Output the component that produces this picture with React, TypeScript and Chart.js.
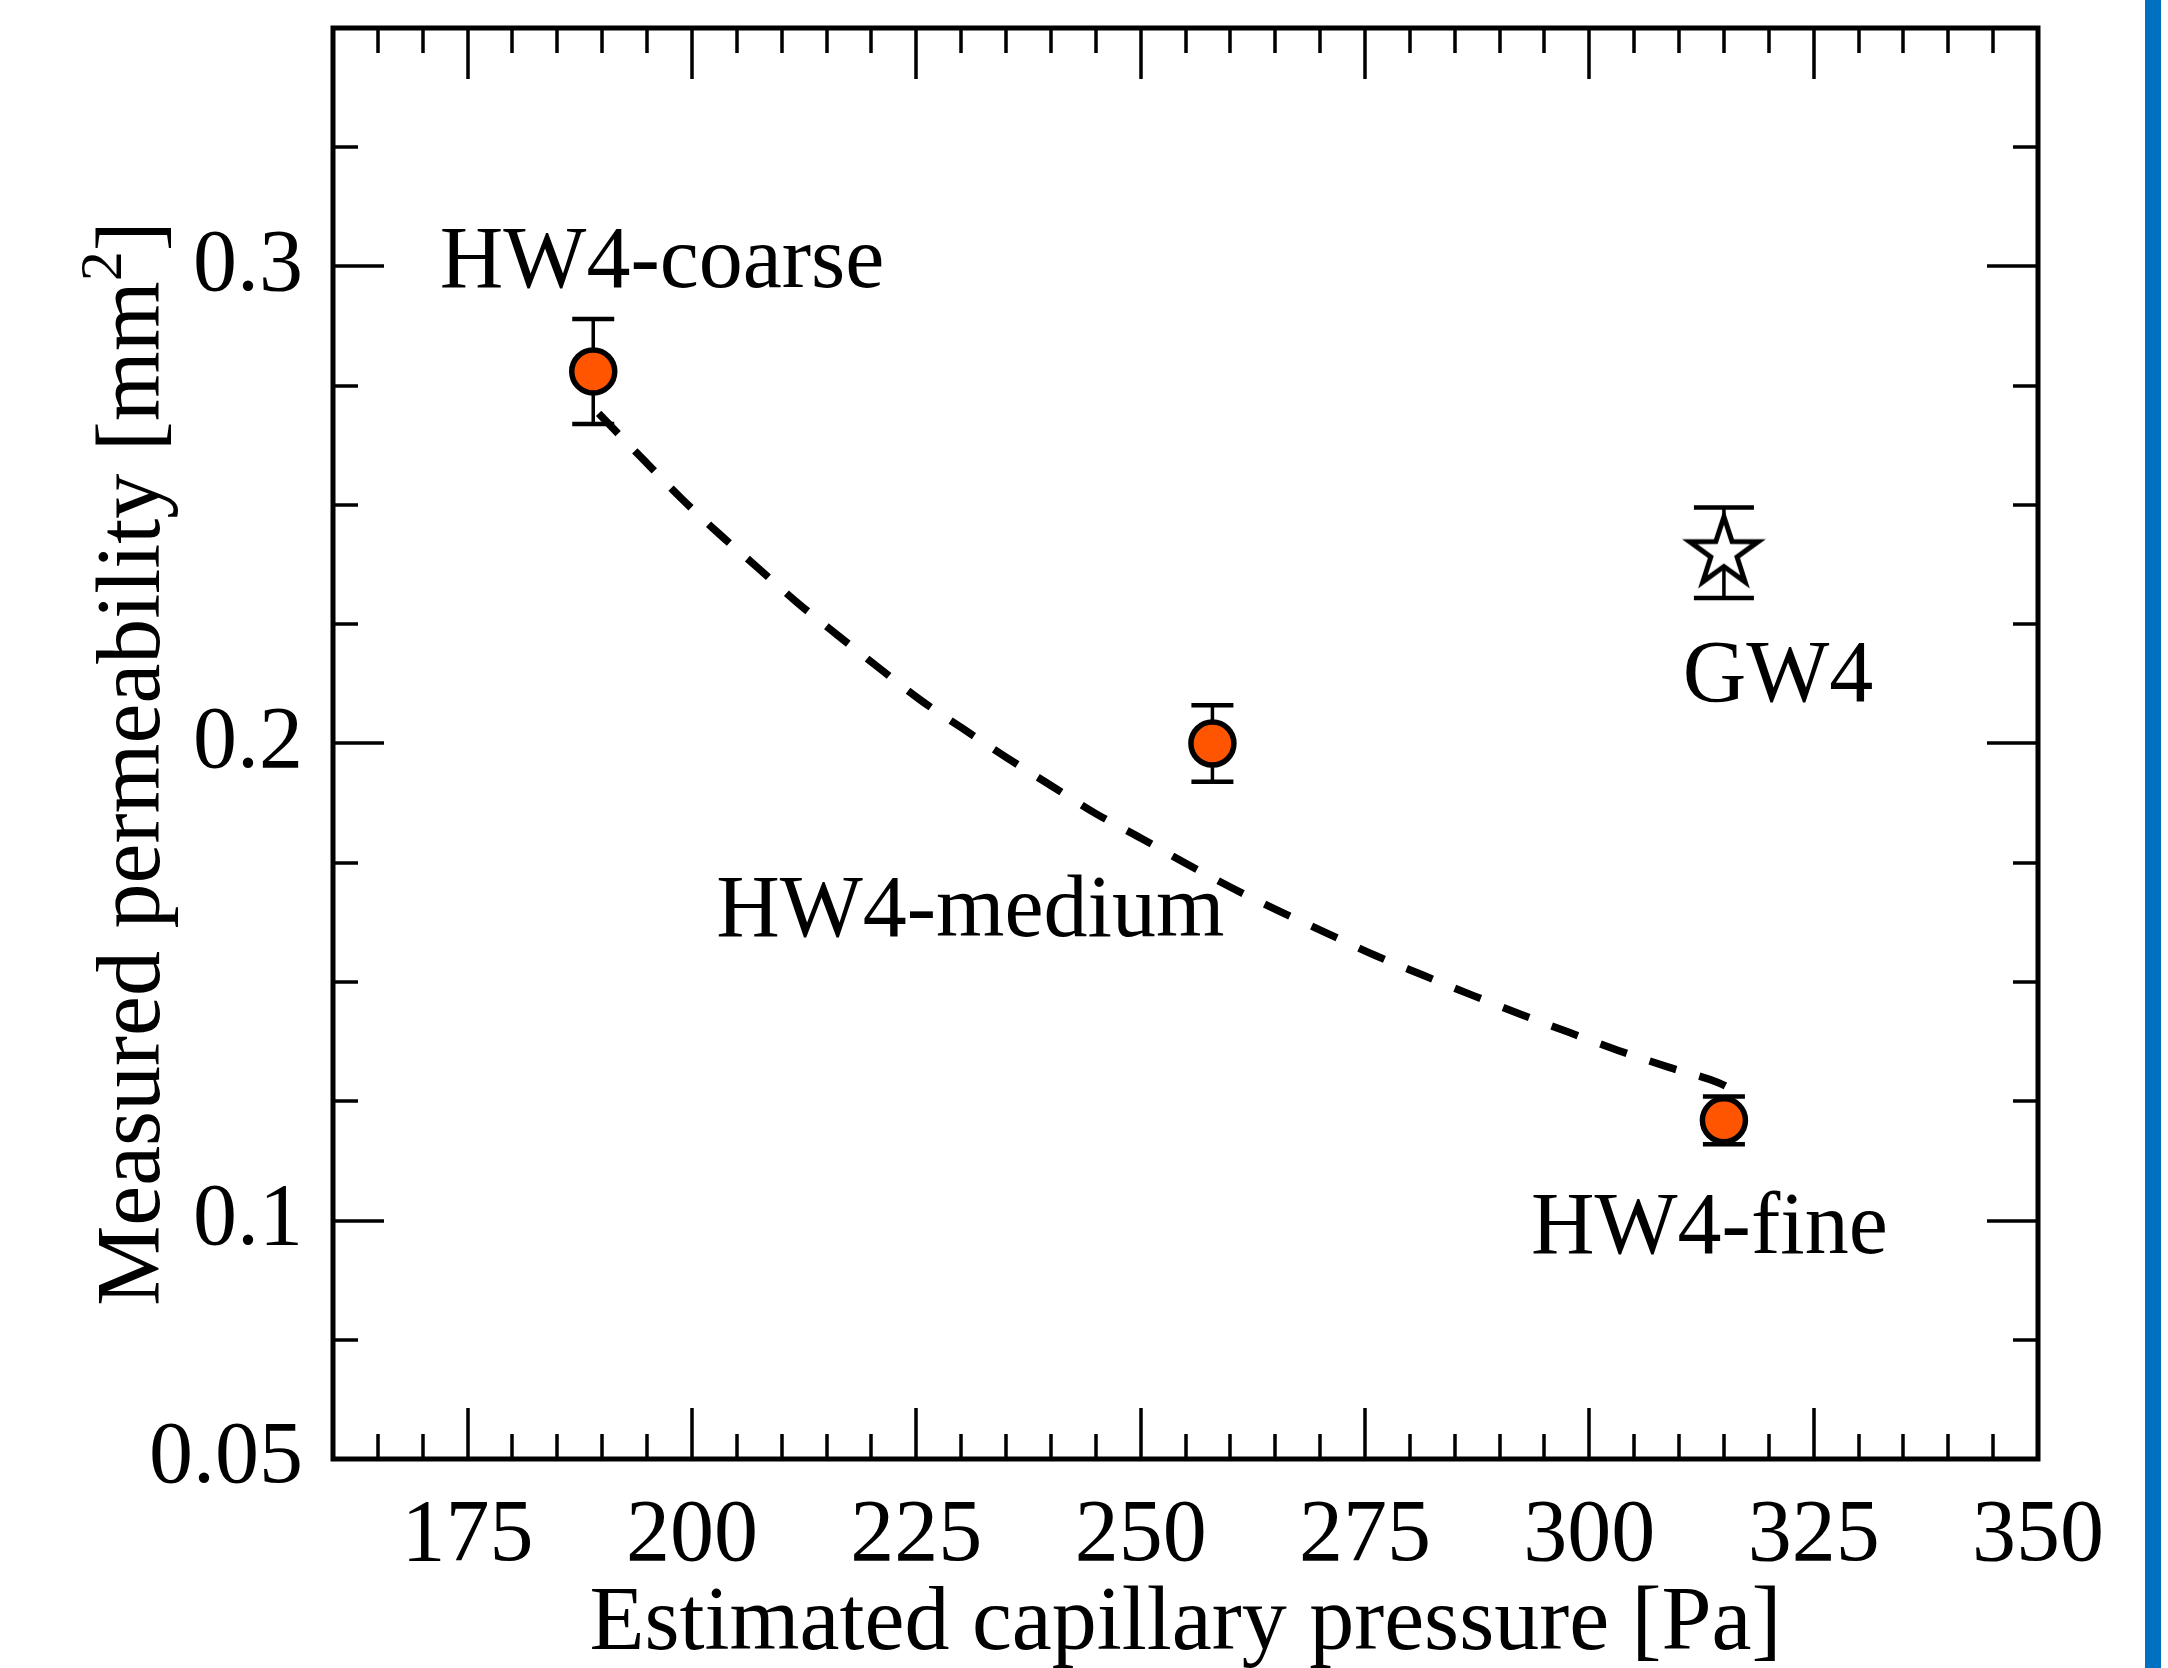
import React, { useEffect, useRef } from 'react';
import { Chart, registerables } from 'chart.js';

Chart.register(...registerables);

// ---- data ----
const hwPressure = [189, 258, 315];
const hwPermeability = [0.278, 0.2, 0.121];
const hwError = [0.011, 0.008, 0.005];

const gwPressure = [315];
const gwPermeability = [0.24];
const gwError = [0.0095];

const fitPressure = [189.6, 194.7, 198.7, 203.0, 207.3, 211.7, 216.3, 220.8, 225.4, 230.2, 235.2, 240.0, 245.0, 250.1, 255.1, 260.3, 265.5, 270.8, 276.1, 281.5, 287.0, 292.4, 297.8, 303.3, 308.9, 314.4, 315.7];
const fitPermeability = [0.2692, 0.2593, 0.2516, 0.244, 0.2369, 0.2296, 0.2226, 0.2159, 0.2092, 0.2031, 0.1969, 0.1912, 0.1853, 0.1801, 0.1748, 0.1696, 0.1648, 0.1602, 0.1556, 0.1514, 0.1472, 0.1432, 0.1394, 0.1356, 0.1321, 0.1289, 0.1277];

const xTickValues = [175, 200, 225, 250, 275, 300, 325, 350];
const yTickValues = [0.05, 0.1, 0.2, 0.3];
const yMajorTicks = [0.1, 0.2, 0.3];

const annotationTexts = ['HW4-coarse', 'HW4-medium', 'HW4-fine', 'GW4'];
const annotationPressure = [171.9, 202.7, 293.5, 310.4];
const annotationPermeability = [0.2956, 0.1597, 0.0931, 0.209];

const yTitleMain = 'Measured permeability [mm';
const yTitleSup = '2';
const yTitleEnd = ']';

const X_MIN = 160;
const X_MAX = 350;
const Y_MIN = 0.05;
const Y_MAX = 0.35;
const X_MINOR = 5;
const X_MAJOR = 25;
const Y_MINOR = 0.025;

const FONT = "'Liberation Serif', 'Times New Roman', Times, serif";

function makeStar(): HTMLCanvasElement {
  const c = document.createElement('canvas');
  c.width = 100;
  c.height = 100;
  const ctx = c.getContext('2d')!;
  const cx = 50, cy = 50, R = 36, r = 13.8;
  ctx.beginPath();
  for (let i = 0; i < 10; i++) {
    const ang = -Math.PI / 2 + (i * Math.PI) / 5;
    const rad = i % 2 === 0 ? R : r;
    const px = cx + rad * Math.cos(ang);
    const py = cy + rad * Math.sin(ang);
    if (i === 0) ctx.moveTo(px, py); else ctx.lineTo(px, py);
  }
  ctx.closePath();
  ctx.fillStyle = '#ffffff';
  ctx.fill();
  ctx.lineWidth = 5;
  ctx.lineJoin = 'miter';
  ctx.strokeStyle = '#000000';
  ctx.stroke();
  return c;
}

const errorBarPlugin = {
  id: 'errorBars',
  beforeDatasetsDraw(chart: any) {
    const { ctx, scales } = chart;
    const xs = scales.x, ys = scales.y;
    ctx.save();
    ctx.strokeStyle = '#000';
    const draw = (px: number[], py: number[], pe: number[], cap: number) => {
      for (let i = 0; i < px.length; i++) {
        const x = xs.getPixelForValue(px[i]);
        const top = ys.getPixelForValue(py[i] + pe[i]);
        const bot = ys.getPixelForValue(py[i] - pe[i]);
        ctx.lineWidth = 3.5;
        ctx.beginPath();
        ctx.moveTo(x, top);
        ctx.lineTo(x, bot);
        ctx.stroke();
        ctx.lineWidth = 4.5;
        ctx.beginPath();
        ctx.moveTo(x - cap, top);
        ctx.lineTo(x + cap, top);
        ctx.moveTo(x - cap, bot);
        ctx.lineTo(x + cap, bot);
        ctx.stroke();
      }
    };
    draw(hwPressure, hwPermeability, hwError, 21);
    draw(gwPressure, gwPermeability, gwError, 30);
    ctx.restore();
  },
};

const framePlugin = {
  id: 'frameTicks',
  afterDatasetsDraw(chart: any) {
    const { ctx, chartArea: a, scales } = chart;
    const xs = scales.x, ys = scales.y;
    ctx.save();
    ctx.strokeStyle = '#000';
    ctx.lineCap = 'butt';
    ctx.lineWidth = 3.5;
    const LONG = 51, SHORT = 25;
    for (let v = X_MIN + X_MINOR; v < X_MAX - 0.001; v += X_MINOR) {
      const px = Math.round(xs.getPixelForValue(v));
      const isMajor = Math.abs(v % X_MAJOR) < 1e-6;
      const len = isMajor ? LONG : SHORT;
      ctx.beginPath();
      ctx.moveTo(px, a.bottom);
      ctx.lineTo(px, a.bottom - len);
      ctx.moveTo(px, a.top);
      ctx.lineTo(px, a.top + len);
      ctx.stroke();
    }
    for (let k = 1; Y_MIN + k * Y_MINOR < Y_MAX - 1e-6; k++) {
      const v = Y_MIN + k * Y_MINOR;
      const py = Math.round(ys.getPixelForValue(v));
      const isMajor = yMajorTicks.some((m) => Math.abs(m - v) < 1e-6);
      const len = isMajor ? LONG : SHORT;
      ctx.beginPath();
      ctx.moveTo(a.left, py);
      ctx.lineTo(a.left + len, py);
      ctx.moveTo(a.right, py);
      ctx.lineTo(a.right - len, py);
      ctx.stroke();
    }
    ctx.lineWidth = 5;
    ctx.lineJoin = 'miter';
    ctx.strokeRect(a.left, a.top, a.right - a.left, a.bottom - a.top);

    ctx.fillStyle = '#000';
    ctx.font = `88px ${FONT}`;
    ctx.textAlign = 'left';
    ctx.textBaseline = 'alphabetic';
    for (let i = 0; i < annotationTexts.length; i++) {
      ctx.fillText(
        annotationTexts[i],
        xs.getPixelForValue(annotationPressure[i]),
        ys.getPixelForValue(annotationPermeability[i])
      );
    }
    ctx.restore();
  },
};

const yTitlePlugin = {
  id: 'yTitle',
  afterDraw(chart: any) {
    const { ctx, chartArea: a } = chart;
    ctx.save();
    ctx.fillStyle = '#000';
    ctx.textBaseline = 'alphabetic';
    ctx.textAlign = 'left';
    const mainFont = `90px ${FONT}`;
    const supFont = `60px ${FONT}`;
    ctx.font = mainFont;
    const w1 = ctx.measureText(yTitleMain).width;
    const w3 = ctx.measureText(yTitleEnd).width;
    ctx.font = supFont;
    const w2 = ctx.measureText(yTitleSup).width;
    const total = w1 + w2 + w3;
    const centerY = (a.top + a.bottom) / 2 + 20;
    ctx.translate(159, centerY);
    ctx.rotate(-Math.PI / 2);
    let x = -total / 2;
    ctx.font = mainFont;
    ctx.fillText(yTitleMain, x, 0);
    x += w1;
    ctx.font = supFont;
    ctx.fillText(yTitleSup, x, -38);
    x += w2;
    ctx.font = mainFont;
    ctx.fillText(yTitleEnd, x, 0);
    ctx.restore();
  },
};

const sideBarPlugin = {
  id: 'sideBar',
  afterDraw(chart: any) {
    const { ctx, height } = chart;
    ctx.save();
    ctx.fillStyle = '#0070C0';
    ctx.fillRect(2145, 0, 16, height);
    ctx.restore();
  },
};

export default function App() {
  const ref = useRef<HTMLCanvasElement | null>(null);

  useEffect(() => {
    if (!ref.current) return;
    const star = makeStar();
    const chart = new Chart(ref.current, {
      type: 'scatter',
      data: {
        datasets: [
          {
            label: 'fit',
            data: fitPressure.map((x, i) => ({ x, y: fitPermeability[i] })),
            showLine: true,
            borderColor: '#000',
            borderWidth: 7.5,
            borderDash: [28, 24],
            borderCapStyle: 'butt',
            pointRadius: 0,
            fill: false,
            cubicInterpolationMode: 'monotone',
          } as any,
          {
            label: 'HW4',
            data: hwPressure.map((x, i) => ({ x, y: hwPermeability[i] })),
            pointRadius: 21.5,
            pointBorderWidth: 5.5,
            pointBorderColor: '#000',
            pointBackgroundColor: '#FF5500',
            showLine: false,
          } as any,
          {
            label: 'GW4',
            data: gwPressure.map((x, i) => ({ x, y: gwPermeability[i] })),
            pointStyle: star,
            pointRadius: 40,
            showLine: false,
          } as any,
        ],
      },
      options: {
        animation: false,
        responsive: false,
        devicePixelRatio: 1,
        events: [],
        layout: { autoPadding: false, padding: { left: 0, top: 28, right: 130, bottom: 0 } },
        plugins: { legend: { display: false }, tooltip: { enabled: false }, title: { display: false } },
        scales: {
          x: {
            type: 'linear',
            min: X_MIN,
            max: X_MAX,
            grid: { display: false, drawTicks: false },
            border: { display: false },
            afterBuildTicks: (scale: any) => {
              scale.ticks = xTickValues.map((v) => ({ value: v }));
            },
            afterFit: (scale: any) => {
              scale.height = 209;
              scale.paddingLeft = 0;
              scale.paddingRight = 0;
            },
            ticks: {
              color: '#000',
              padding: 25,
              maxRotation: 0,
              autoSkip: false,
              font: { family: FONT, size: 88, lineHeight: 1.2 },
              callback: (v: any) => String(v),
            },
            title: {
              display: true,
              text: 'Estimated capillary pressure [Pa]',
              color: '#000',
              font: { family: FONT, size: 90, lineHeight: 1 },
              padding: { top: 0, bottom: -2 },
            },
          },
          y: {
            type: 'linear',
            min: Y_MIN,
            max: Y_MAX,
            grid: { display: false, drawTicks: false },
            border: { display: false },
            afterBuildTicks: (scale: any) => {
              scale.ticks = yTickValues.map((v) => ({ value: v }));
            },
            afterFit: (scale: any) => {
              scale.width = 333;
              scale.paddingTop = 0;
              scale.paddingBottom = 0;
            },
            ticks: {
              color: '#000',
              padding: 30,
              autoSkip: false,
              font: { family: FONT, size: 88, lineHeight: 1.2 },
              callback: (v: any) => String(v),
            },
            title: { display: false },
          },
        },
      } as any,
      plugins: [errorBarPlugin, framePlugin, yTitlePlugin, sideBarPlugin],
    });
    return () => chart.destroy();
  }, []);

  return (
    <div style={{ position: 'fixed', left: 0, top: 0, width: 2168, height: 1668, background: '#fff' }}>
      <canvas ref={ref} width={2168} height={1668} style={{ width: 2168, height: 1668, display: 'block' }} />
    </div>
  );
}
